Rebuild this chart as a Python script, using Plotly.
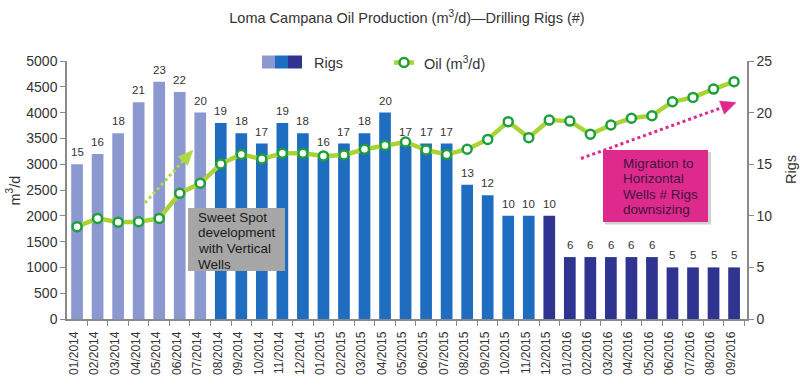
import plotly.graph_objects as go

# ---------------- data ----------------
months = ["01/2014", "02/2014", "03/2014", "04/2014", "05/2014", "06/2014", "07/2014",
          "08/2014", "09/2014", "10/2014", "11/2014", "12/2014",
          "01/2015", "02/2015", "03/2015", "04/2015", "05/2015", "06/2015", "07/2015",
          "08/2015", "09/2015", "10/2015", "11/2015", "12/2015",
          "01/2016", "02/2016", "03/2016", "04/2016", "05/2016", "06/2016", "07/2016",
          "08/2016", "09/2016"]
rigs = [15, 16, 18, 21, 23, 22, 20, 19, 18, 17, 19, 18,
        16, 17, 18, 20, 17, 17, 17, 13, 12, 10, 10, 10,
        6, 6, 6, 6, 6, 5, 5, 5, 5]
oil = [1790, 1950, 1875, 1885, 1950, 2435, 2630, 3005, 3190, 3100, 3210, 3210,
       3160, 3180, 3290, 3360, 3430, 3275, 3190, 3290, 3480, 3825, 3515, 3855,
       3835, 3580, 3760, 3890, 3940, 4210, 4295, 4455, 4600]
# phase of each month: 0 = vertical wells, 1 = transition, 2 = horizontal wells
phase = [0] * 7 + [1] * 16 + [2] * 10

# ---------------- styles ----------------
FONT = "Liberation Sans, Arial, sans-serif"
PHASE_COLORS = ["#8C98D0", "#1F6DC0", "#2E3490"]
OIL_LINE = "#A9D336"
OIL_MARK = "#1F9E3C"
AXIS = "#8A8A8A"
TXT = "#333333"

# plot area in pixels (for decorations)
PL, PR, PT, PB = 67, 747, 61, 319


def px(x):
    return (x - PL) / (PR - PL)


def py(y):
    return (PB - y) / (PB - PT)


fig = go.Figure()

fig.add_trace(go.Bar(
    x=months, y=rigs, yaxis="y",
    marker=dict(color=[PHASE_COLORS[p] for p in phase], line=dict(width=0)),
    name="Rigs", showlegend=False,
))

fig.add_trace(go.Scatter(
    x=months, y=oil, yaxis="y2", mode="lines+markers",
    line=dict(color=OIL_LINE, width=4.5),
    marker=dict(symbol="circle", size=9, color="white",
                line=dict(color=OIL_MARK, width=2.5)),
    name="Oil (m³/d)", showlegend=False, cliponaxis=False,
))

shapes = []
annotations = []

# ----- bar value labels -----
for m, r in zip(months, rigs):
    annotations.append(dict(text=str(r), x=m, y=r, xref="x", yref="y",
                            xanchor="center", yanchor="bottom", yshift=4,
                            showarrow=False,
                            font=dict(size=11.5, color=TXT, family=FONT)))

# ----- legend -----
sw = [(262, 275), (275, 288), (288, 302)]
for (x0, x1), c in zip(sw, PHASE_COLORS):
    shapes.append(dict(type="rect", xref="paper", yref="paper",
                       x0=px(x0), x1=px(x1), y0=py(68.5), y1=py(55.5),
                       fillcolor=c, line=dict(width=0)))
annotations.append(dict(text="Rigs", xref="paper", yref="paper", x=px(312), y=py(62.5),
                        xanchor="left", yanchor="middle", showarrow=False,
                        font=dict(size=14.5, color=TXT, family=FONT)))
shapes.append(dict(type="line", xref="paper", yref="paper",
                   x0=px(394), x1=px(414), y0=py(62.5), y1=py(62.5),
                   line=dict(color=OIL_LINE, width=4.5)))
shapes.append(dict(type="circle", xref="paper", yref="paper",
                   x0=px(399.5), x1=px(408.5), y0=py(67), y1=py(58),
                   fillcolor="white", line=dict(color=OIL_MARK, width=2.5)))
annotations.append(dict(text="Oil (m<sup>3</sup>/d)", xref="paper", yref="paper",
                        x=px(422), y=py(62.5), xanchor="left", yanchor="middle",
                        showarrow=False, font=dict(size=14.5, color=TXT, family=FONT)))


# ----- dotted arrows -----
def dotted_arrow(start, tip, color, head_len, half_w, width):
    (sx, sy), (tx, ty) = start, tip
    dx, dy = tx - sx, ty - sy
    L = (dx * dx + dy * dy) ** 0.5
    ux, uy = dx / L, dy / L
    bx, by = tx - head_len * ux, ty - head_len * uy
    nx, ny = -uy, ux
    shapes.append(dict(type="line", xref="paper", yref="paper",
                       x0=px(sx), y0=py(sy), x1=px(bx), y1=py(by),
                       line=dict(color=color, width=width, dash="dot")))
    p1 = (bx + half_w * nx, by + half_w * ny)
    p2 = (bx - half_w * nx, by - half_w * ny)
    path = "M {} {} L {} {} L {} {} Z".format(px(tx), py(ty), px(p1[0]), py(p1[1]),
                                              px(p2[0]), py(p2[1]))
    shapes.append(dict(type="path", xref="paper", yref="paper", path=path,
                       fillcolor=color, line=dict(color=color, width=0.5)))


dotted_arrow((145, 203), (193, 150), "#AEDA45", 15, 6.5, 3)
dotted_arrow((581, 158.5), (736, 102.5), "#E0288C", 15, 7, 3)

# ----- text boxes -----
shapes.append(dict(type="rect", xref="paper", yref="paper",
                   x0=px(188), x1=px(285), y0=py(271), y1=py(208),
                   fillcolor="#A6A6A6", line=dict(width=0)))
for i, t in enumerate(["Sweet Spot", "development", "with Vertical", "Wells"]):
    annotations.append(dict(text=t, xref="paper", yref="paper", x=px(196),
                            y=py(217 + 15.8 * i), xanchor="left", yanchor="middle",
                            showarrow=False, font=dict(size=13.5, color="#1A1A1A", family=FONT)))

shapes.append(dict(type="rect", xref="paper", yref="paper",
                   x0=px(605), x1=px(711), y0=py(224.5), y1=py(152),
                   fillcolor="rgba(0,0,0,0.18)", line=dict(width=0)))
shapes.append(dict(type="rect", xref="paper", yref="paper",
                   x0=px(603), x1=px(708), y0=py(222), y1=py(150),
                   fillcolor="#DE2A8C", line=dict(width=0)))
for i, t in enumerate(["Migration to", "Horizontal", "Wells # Rigs", "downsizing"]):
    annotations.append(dict(text=t, xref="paper", yref="paper", x=px(621),
                            y=py(163 + 15.5 * i), xanchor="left", yanchor="middle",
                            showarrow=False, font=dict(size=13.5, color="#3E143E", family=FONT)))

# ----- axis titles -----
annotations.append(dict(text="m<sup>3</sup>/d", xref="paper", yref="paper", x=px(13.5),
                        y=py(191), xanchor="center", yanchor="middle", textangle=-90,
                        showarrow=False, font=dict(size=14.5, color=TXT, family=FONT)))
annotations.append(dict(text="Rigs", xref="paper", yref="paper", x=px(791),
                        y=py(170), xanchor="center", yanchor="middle", textangle=-90,
                        showarrow=False, font=dict(size=14.5, color=TXT, family=FONT)))

fig.update_layout(
    width=800, height=390,
    margin=dict(l=PL, r=800 - PR, t=PT, b=390 - PB, autoexpand=False),
    paper_bgcolor="white", plot_bgcolor="white",
    font=dict(family=FONT, color=TXT),
    title=dict(text="Loma Campana Oil Production (m<sup>3</sup>/d)—Drilling Rigs (#)",
               x=0.5, xref="paper", xanchor="center", y=1 - 18 / 390, yanchor="middle",
               font=dict(size=14.5, color=TXT, family=FONT)),
    bargap=0.43,
    xaxis=dict(type="category", range=[-0.49, 32.63], tickangle=-90,
               tickfont=dict(size=12, color=TXT, family=FONT),
               showline=True, linecolor=AXIS, linewidth=1.5,
               ticks="outside", tickson="boundaries", ticklen=5, tickcolor=AXIS,
               ticklabelstandoff=6, ticklabelshift=-3,
               showgrid=False, zeroline=False),
    yaxis=dict(side="right", range=[0, 25], tickvals=[0, 5, 10, 15, 20, 25],
               tickfont=dict(size=14, color=TXT, family=FONT),
               showline=True, linecolor=AXIS, linewidth=1.5,
               ticks="outside", ticklen=5, tickcolor=AXIS,
               showgrid=False, zeroline=False),
    yaxis2=dict(side="left", overlaying="y", range=[0, 5000], dtick=500,
                tickfont=dict(size=14, color=TXT, family=FONT),
                showline=True, linecolor=AXIS, linewidth=1.5,
                ticks="outside", ticklen=5, tickcolor=AXIS,
                showgrid=False, zeroline=False),
    showlegend=False,
    shapes=shapes,
    annotations=annotations,
)

fig.write_html("out.html", config={"displayModeBar": False},
               post_script="document.body.style.margin='0px';document.body.style.overflow='hidden';")
